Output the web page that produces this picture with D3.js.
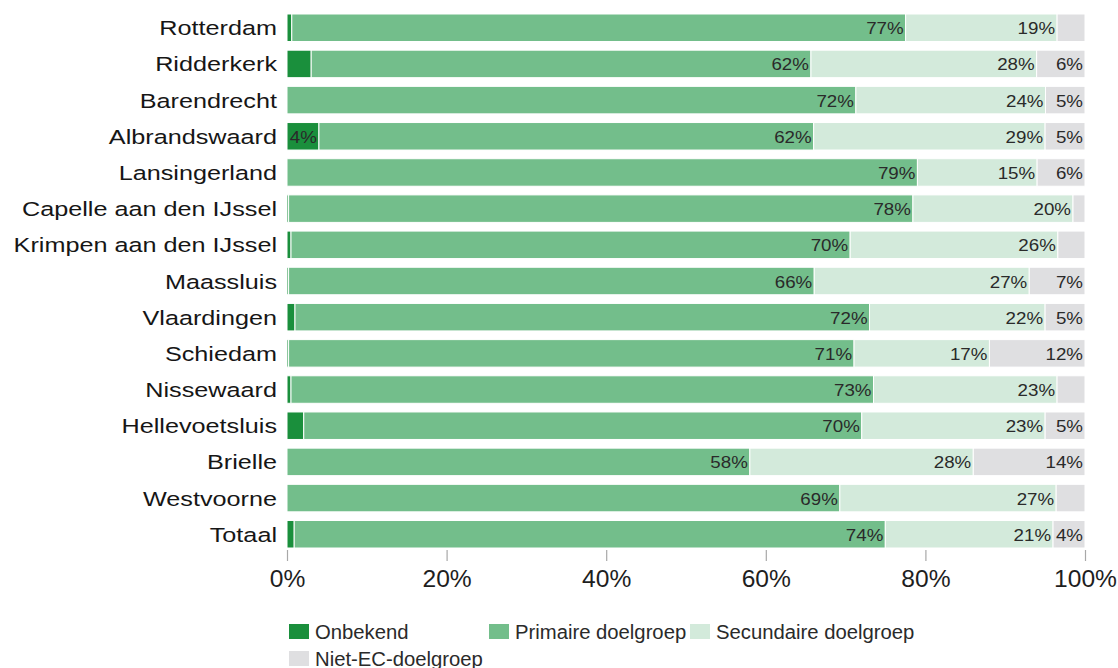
<!DOCTYPE html>
<html>
<head>
<meta charset="utf-8">
<script src="https://cdn.jsdelivr.net/npm/d3@7/dist/d3.min.js"></script>
<style>
  html, body { margin: 0; padding: 0; background: #fff; overflow: hidden; }
  svg { display: block; font-family: "Liberation Sans", Arial, sans-serif; }
</style>
</head>
<body>
<svg id="chart" width="1118" height="668"></svg>
<script>
// Gemeenten (rijen, van boven naar beneden)
const categories = [
  "Rotterdam", "Ridderkerk", "Barendrecht", "Albrandswaard", "Lansingerland",
  "Capelle aan den IJssel", "Krimpen aan den IJssel", "Maassluis", "Vlaardingen",
  "Schiedam", "Nissewaard", "Hellevoetsluis", "Brielle", "Westvoorne", "Totaal"
];

// Aandelen per doelgroep (%)
const onbekend   = [0.6, 3, 0, 4, 0, 0.2, 0.5, 0.2, 1.0, 0.2, 0.5, 2.1, 0, 0, 0.9];
const primair    = [77, 62, 72, 62, 79, 78, 70, 66, 72, 71, 73, 70, 58, 69, 74];
const secundair  = [19, 28, 24, 29, 15, 20, 26, 27, 22, 17, 23, 23, 28, 27, 21];
const nietEC     = [3.5, 6, 5, 5, 6, 1.5, 3.4, 7, 5, 12, 3.5, 5, 14, 3.6, 4];

const seriesNames = ["Onbekend", "Primaire doelgroep", "Secundaire doelgroep", "Niet-EC-doelgroep"];
const seriesColors = ["#1a8f3c", "#73be8b", "#d3eadb", "#dfdfe1"];
const tickValues = [0, 0.2, 0.4, 0.6, 0.8, 1];
const tickLabels = ["0%", "20%", "40%", "60%", "80%", "100%"];

const keys = ["onbekend", "primair", "secundair", "nietEC"];
const rows = categories.map((c, i) => ({
  name: c,
  onbekend: onbekend[i],
  primair: primair[i],
  secundair: secundair[i],
  nietEC: nietEC[i]
}));

const svg = d3.select("#chart");

const x = d3.scaleLinear().domain([0, 1]).range([287, 1085]);
const y = d3.scaleBand().domain(categories).range([14, 548]).paddingInner(0.24).paddingOuter(0);
const color = d3.scaleOrdinal().domain(keys).range(seriesColors);

const stack = d3.stack().keys(keys).offset(d3.stackOffsetExpand);
const stacked = stack(rows);

// Gestapelde balken
const layers = svg.append("g").selectAll("g")
  .data(stacked)
  .join("g")
  .attr("fill", d => color(d.key));

layers.selectAll("rect")
  .data(d => d.map(s => ({ s, key: d.key })))
  .join("rect")
  .attr("x", d => x(d.s[0]))
  .attr("y", d => y(d.s.data.name))
  .attr("width", d => Math.max(0, x(d.s[1]) - x(d.s[0])))
  .attr("height", y.bandwidth())
  .attr("stroke", "#fff")
  .attr("stroke-width", 1);

// Waardelabels aan het einde van elk segment
const labelData = [];
stacked.forEach(layer => {
  layer.forEach(s => {
    const v = s.data[layer.key];
    if (v >= 4) labelData.push({ v, x1: x(s[1]), name: s.data.name });
  });
});

svg.append("g").selectAll("text")
  .data(labelData)
  .join("text")
  .attr("transform", d => `translate(${d.x1 - 2},${y(d.name) + y.bandwidth() / 2 + 6.5}) scale(1.15,1)`)
  .attr("text-anchor", "end")
  .attr("font-size", "16.3px")
  .attr("fill", "#2a2a2a")
  .text(d => Math.round(d.v) + "%");

// Categorie-labels
svg.append("g").selectAll("text")
  .data(categories)
  .join("text")
  .attr("transform", d => `translate(277,${y(d) + y.bandwidth() / 2 + 7.5}) scale(1.23,1)`)
  .attr("text-anchor", "end")
  .attr("font-size", "20.5px")
  .attr("fill", "#161616")
  .text(d => d);

// X-as
const axis = d3.axisBottom(x)
  .tickValues(tickValues)
  .tickFormat((d, i) => tickLabels[i])
  .tickSize(11)
  .tickPadding(0);

const axisG = svg.append("g")
  .attr("transform", "translate(0,550)")
  .call(axis);
axisG.select(".domain").remove();
axisG.selectAll(".tick line").attr("stroke", "#a8a8a8").attr("stroke-width", 1.2);
axisG.selectAll(".tick text")
  .attr("y", null)
  .attr("dy", null)
  .attr("transform", "translate(0,37) scale(1.07,1)")
  .attr("font-size", "23px")
  .attr("font-family", "'Liberation Sans', Arial, sans-serif")
  .attr("fill", "#1e1e1e");

// Legenda
const legendPos = [
  { x: 289, y: 624 },
  { x: 489, y: 624 },
  { x: 690, y: 624 },
  { x: 289, y: 651 }
];
const legend = svg.append("g").selectAll("g")
  .data(seriesNames)
  .join("g")
  .attr("transform", (d, i) => `translate(${legendPos[i].x},${legendPos[i].y})`);

legend.append("rect")
  .attr("width", 20)
  .attr("height", 15)
  .attr("fill", (d, i) => seriesColors[i]);

legend.append("text")
  .attr("transform", "translate(26,14.5) scale(1.04,1)")
  .attr("font-size", "19.5px")
  .attr("fill", "#2a2a2a")
  .text(d => d);
</script>
</body>
</html>
